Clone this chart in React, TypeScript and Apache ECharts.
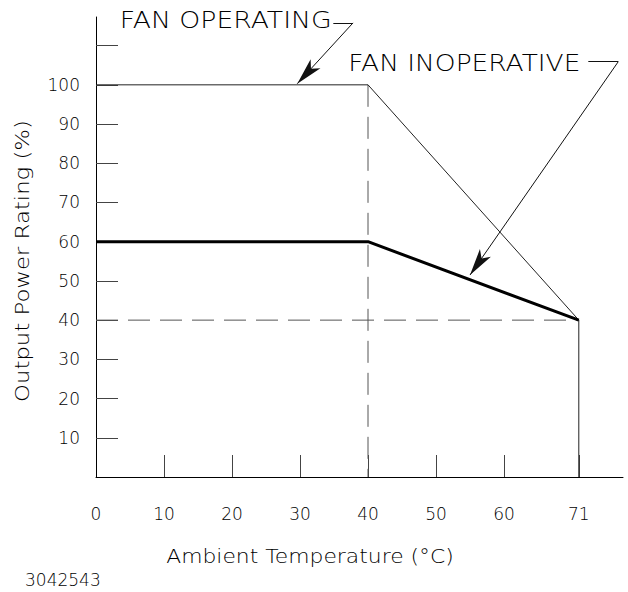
import React, { useEffect, useRef } from "react";
import * as echarts from "echarts";

// Curves (ambient temperature °C -> output power rating %)
const fanOpTemps = [0, 40, 71, 71];
const fanOpValues = [100, 100, 40, 0];
const fanInopTemps = [0, 40, 71];
const fanInopValues = [60, 60, 40];

// Dashed reference lines
const refVTemps = [40, 40];
const refVValues = [100, 0];
const refHTemps = [0, 71];
const refHValues = [40, 40];

// Axis ticks / labels
const xTickValues = [10, 20, 30, 40, 50, 60, 71];
const xLabelValues = [0, 10, 20, 30, 40, 50, 60, 71];
const yTickValues = [10, 20, 30, 40, 50, 60, 70, 80, 90, 100, 110];
const yLabelValues = [10, 20, 30, 40, 50, 60, 70, 80, 90, 100];

// Annotations (data coordinates)
const opLabel = "FAN OPERATING";
const opLabelAt = [3.5, 116.6];
const opLeader = [[34.9, 115.8], [37.8, 115.8], [29.6, 100.3]];
const inopLabel = "FAN INOPERATIVE";
const inopLabelAt = [37.1, 105.6];
const inopLeader = [[72.4, 105.9], [76.8, 105.9], [55, 51.5]];

const xName = "Ambient Temperature (°C)";
const yName = "Output Power Rating (%)";
const figureId = "3042543";

const FONT = "'DejaVu Sans', 'Liberation Sans', sans-serif";
const INK = "#000";
const W = 200;

const zip = (xs: number[], ys: number[]) => xs.map((x, i) => [x, ys[i]]);

function leaderLines(pts: number[][]) {
  return [
    [{ coord: pts[0], symbol: "none" }, { coord: pts[1], symbol: "none" }],
    [{ coord: pts[1], symbol: "none" }, { coord: pts[2], symbol: "arrow" }],
  ];
}

export default function App() {
  const ref = useRef<HTMLDivElement>(null);
  useEffect(() => {
    if (!ref.current) return;
    const chart = echarts.init(ref.current, undefined, { renderer: "svg" });
    const thin = { color: "#222", width: 1 };
    const numLabel = {
      color: INK,
      fontFamily: FONT,
      fontWeight: W,
      fontSize: 17,
    };
    chart.setOption({
      animation: false,
      backgroundColor: "#fff",
      grid: { left: 96, right: 5, top: 17, bottom: 115 },
      xAxis: {
        type: "value",
        min: 0,
        max: 77.5,
        axisLine: { show: true, lineStyle: { color: "#000", width: 1 } },
        axisTick: { show: true, inside: true, length: 22, customValues: xTickValues, lineStyle: { color: "#444" } },
        axisLabel: {
          ...numLabel,
          customValues: xLabelValues,
          margin: 28,
          showMinLabel: true,
          showMaxLabel: true,
        },
        splitLine: { show: false },
      },
      yAxis: {
        type: "value",
        min: 0,
        max: 117.3,
        axisLine: { show: true, lineStyle: { color: "#000", width: 1 } },
        axisTick: { show: true, inside: true, length: 22, customValues: yTickValues, lineStyle: { color: "#444" } },
        axisLabel: {
          ...numLabel,
          customValues: yLabelValues,
          margin: 16,
        },
        splitLine: { show: false },
      },
      series: [
        {
          type: "line",
          data: zip(refVTemps, refVValues),
          symbol: "none",
          lineStyle: { color: "#555", width: 1, type: [22, 10] },
          silent: true,
        },
        {
          type: "line",
          data: zip(refHTemps, refHValues),
          symbol: "none",
          lineStyle: { color: "#555", width: 1, type: [22, 10] },
          silent: true,
        },
        {
          type: "line",
          data: zip(fanOpTemps, fanOpValues),
          symbol: "none",
          lineStyle: thin,
          silent: true,
        },
        {
          type: "line",
          data: zip(fanInopTemps, fanInopValues),
          symbol: "none",
          lineStyle: { color: "#000", width: 3 },
          silent: true,
        },
        {
          type: "line",
          data: [],
          symbol: "none",
          silent: true,
          markLine: {
            silent: true,
            symbolSize: [10, 27],
            label: { show: false },
            lineStyle: { color: "#111", width: 1, type: "solid" },
            itemStyle: { color: "#000" },
            emphasis: { disabled: true },
            data: [...leaderLines(opLeader), ...leaderLines(inopLeader)],
          },
        },
      ],
    });

    const toPx = (p: number[]) => chart.convertToPixel({ xAxisIndex: 0, yAxisIndex: 0 }, p) as number[];
    const opPx = toPx(opLabelAt);
    const inopPx = toPx(inopLabelAt);
    chart.setOption({
      graphic: [
        {
          type: "text",
          x: opPx[0],
          y: opPx[1],
          scaleX: 1.16,
          style: { text: opLabel, fill: INK, font: `${W} 23px ${FONT}`, align: "left", verticalAlign: "middle" },
        },
        {
          type: "text",
          x: inopPx[0],
          y: inopPx[1],
          scaleX: 1.15,
          style: { text: inopLabel, fill: INK, font: `${W} 23px ${FONT}`, align: "left", verticalAlign: "middle" },
        },
        {
          type: "text",
          x: 310,
          y: 557,
          scaleX: 1.15,
          style: { text: xName, fill: INK, font: `${W} 19px ${FONT}`, align: "center", verticalAlign: "middle" },
        },
        {
          type: "text",
          x: 23,
          y: 261,
          rotation: Math.PI / 2,
          scaleX: 1.2,
          style: { text: yName, fill: INK, font: `${W} 19px ${FONT}`, align: "center", verticalAlign: "middle" },
        },
        {
          type: "text",
          x: 25,
          y: 580,
          style: { text: figureId, fill: INK, font: `${W} 17px ${FONT}`, align: "left", verticalAlign: "middle" },
        },
      ],
    });
    return () => chart.dispose();
  }, []);
  return <div ref={ref} style={{ position: "fixed", left: 0, top: 0, width: 628, height: 592 }} />;
}
